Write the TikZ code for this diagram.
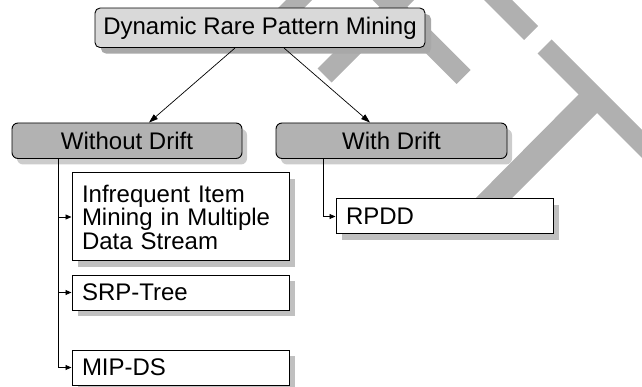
\documentclass[tikz,border=0pt]{standalone}
\usepackage{fontspec}
\setmainfont{Liberation Sans}
\usetikzlibrary{arrows.meta,shadows,calc}

\definecolor{markgray}{RGB}{176,176,176}
\definecolor{topfill}{RGB}{217,217,217}
\definecolor{topshadow}{RGB}{168,168,168}
\definecolor{midfill}{RGB}{178,178,178}
\definecolor{midshadow}{RGB}{204,204,204}
\definecolor{leafshadow}{RGB}{192,192,192}

\tikzset{
  every node/.style={font=\fontsize{24}{23.5}\selectfont, inner sep=0pt},
  topbox/.style={draw=black, line width=0.9pt, rounded corners=5pt, fill=topfill,
    minimum width=330pt, minimum height=39.5pt,
    general shadow={fill=topshadow, shadow xshift=6pt, shadow yshift=-6pt}},
  midbox/.style={draw=black, line width=0.9pt, rounded corners=6pt, fill=midfill,
    minimum width=230pt, minimum height=35.5pt,
    general shadow={fill=midshadow, shadow xshift=5pt, shadow yshift=-6pt}},
  leafbox/.style={draw=black, line width=1pt, fill=white,
    text width=197pt, align=left, inner xsep=10pt, minimum height=35pt,
    general shadow={fill=leafshadow, shadow xshift=6pt, shadow yshift=-6pt}},
  fork/.style={line width=0.7pt, -{Triangle[length=9pt,width=6pt]}},
  bus/.style={line width=0.9pt, -{Triangle[length=6pt,width=5pt]}},
}

\begin{document}
\begin{tikzpicture}[x=1pt,y=-1pt]
\useasboundingbox (0,0) rectangle (642,387);

% light grey bands in the background
\begin{scope}
  \clip (0,0) rectangle (642,387);
  \fill[markgray] (291,-5) -- (317,-5) -- (290,22) -- (264,22) -- cycle;
  \fill[markgray] (391,-5) -- (419,-5) -- (331.5,82.5) -- (317.5,68.5) -- cycle;
  \fill[markgray] (367.5,-5) -- (395.5,-5) -- (470.5,70) -- (456.5,84) -- cycle;
  \fill[markgray] (479,-5) -- (507,-5) -- (538,26) -- (524,40) -- cycle;
  \fill[markgray] (551.5,39.5) -- (700,188) -- (700,216) -- (537.5,53.5) -- cycle;
  \fill[markgray] (585.5,87.5) -- (604.5,105.5) -- (495,215) -- (459,215) -- cycle;
\end{scope}

% hierarchy boxes
\node[topbox] (root) at (260,27.8) {Dynamic Rare Pattern Mining};
\node[midbox] (wo) at (127,140.75) {Without Drift};
\node[midbox, minimum width=231pt] (wd) at (391.5,140.75) {With Drift};

\node[leafbox, minimum height=88pt] (inf) at (180.5,217)
  {Infrequent Item\\Mining in Multiple\\Data Stream};
\node[leafbox] (srp) at (180.5,292.5) {SRP-Tree};
\node[leafbox] (mip) at (180.5,367.5) {MIP-DS};
\node[leafbox] (rpdd) at (444.5,216.5) {RPDD};

% links from the root
\draw[fork] ([xshift=-25pt]root.south) -- ([xshift=22pt]wo.north);
\draw[fork] ([xshift=24pt]root.south) -- ([xshift=-21.5pt]wd.north);

% branch lines to the methods
\coordinate (wobus) at ([xshift=47pt]wo.south west);
\draw[bus] (wobus) |- (mip.west);
\draw[bus] (wobus |- inf.west) -- (inf.west);
\draw[bus] (wobus |- srp.west) -- (srp.west);

\coordinate (wdbus) at ([xshift=48pt]wd.south west);
\draw[bus] (wdbus) |- (rpdd.west);
\end{tikzpicture}
\end{document}
